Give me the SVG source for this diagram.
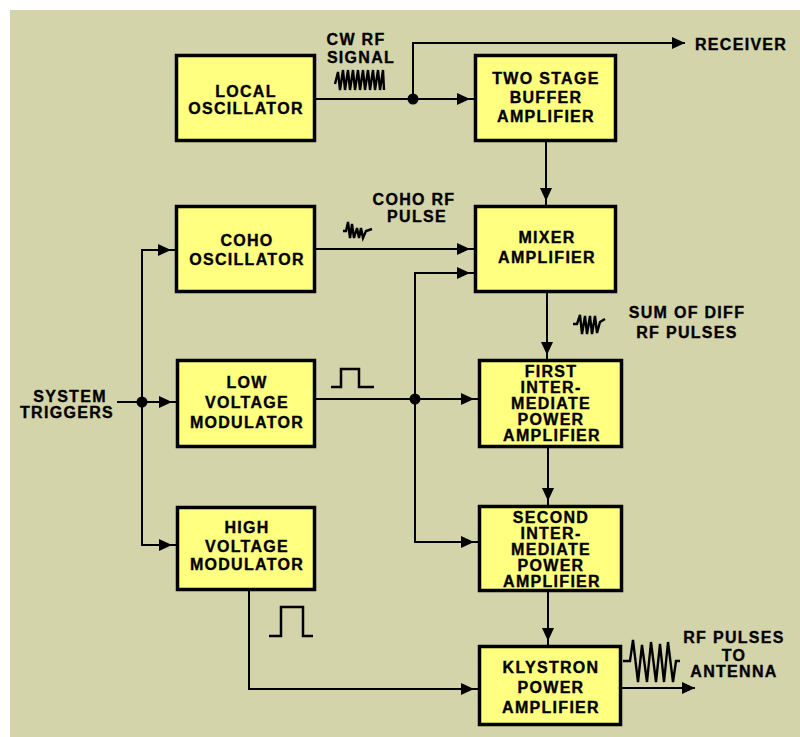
<svg xmlns="http://www.w3.org/2000/svg" width="800" height="737" viewBox="0 0 800 737">
<defs>
<style>
.box{fill:#FFFF80;stroke:#000;stroke-width:3.5}
.t{font-family:"Liberation Sans",Arial,sans-serif;font-weight:bold;font-size:16px;letter-spacing:1.3px;fill:#000;stroke:#000;stroke-width:0.35;text-anchor:middle}
.w{fill:none;stroke:#000;stroke-width:2}
.sq{fill:none;stroke:#000;stroke-width:2.4;stroke-linejoin:miter}
</style>
<marker id="ah" markerUnits="userSpaceOnUse" markerWidth="20" markerHeight="14" viewBox="0 0 20 14" refX="17" refY="7" orient="auto"><path d="M0,1 L13,7 L0,13 z" fill="#000"/></marker>
<marker id="at" markerUnits="userSpaceOnUse" markerWidth="20" markerHeight="14" viewBox="0 0 20 14" refX="13" refY="7" orient="auto"><path d="M0,1 L13,7 L0,13 z" fill="#000"/></marker>
</defs>
<rect x="0" y="0" width="800" height="737" fill="#fff"/>
<rect x="10" y="10" width="790" height="727" fill="#D4D4AA"/>

<g id="connectors">
<path class="w" d="M316,99 H474" marker-end="url(#ah)"/>
<path class="w" d="M413,99 V43 H685" marker-end="url(#at)"/>
<path class="w" d="M546,142 V205" marker-end="url(#ah)"/>
<path class="w" d="M316,249 H474" marker-end="url(#ah)"/>
<path class="w" d="M316,399 H478" marker-end="url(#ah)"/>
<path class="w" d="M415,399 V273 H474" marker-end="url(#ah)"/>
<path class="w" d="M415,399 V542 H478" marker-end="url(#ah)"/>
<path class="w" d="M547,293 V359" marker-end="url(#ah)"/>
<path class="w" d="M548,448 V505" marker-end="url(#ah)"/>
<path class="w" d="M548,592 V645" marker-end="url(#ah)"/>
<path class="w" d="M117,402 H176" marker-end="url(#ah)"/>
<path class="w" d="M142,402 V250 H175" marker-end="url(#ah)"/>
<path class="w" d="M142,402 V545 H176" marker-end="url(#ah)"/>
<path class="w" d="M249,591 V689 H478" marker-end="url(#ah)"/>
<path class="w" d="M622,688 H695" marker-end="url(#at)"/>
<circle cx="413" cy="99" r="5.5" fill="#000"/>
<circle cx="415" cy="399" r="5.5" fill="#000"/>
<circle cx="142" cy="402" r="5.5" fill="#000"/>
</g>

<g id="local-oscillator">
<rect class="box" x="176.5" y="55.5" width="138" height="85"/>
<text class="t" x="246" y="97">LOCAL</text>
<text class="t" x="246" y="114">OSCILLATOR</text>
</g>
<g id="two-stage-buffer">
<rect class="box" x="475.5" y="55.5" width="140" height="85"/>
<text class="t" x="546" y="84">TWO STAGE</text>
<text class="t" x="546" y="103">BUFFER</text>
<text class="t" x="546" y="122">AMPLIFIER</text>
</g>
<g id="coho-oscillator">
<rect class="box" x="176.5" y="206.5" width="138" height="85"/>
<text class="t" x="247" y="246">COHO</text>
<text class="t" x="247" y="265">OSCILLATOR</text>
</g>
<g id="mixer-amplifier">
<rect class="box" x="475.5" y="206.5" width="140" height="85"/>
<text class="t" x="547" y="243">MIXER</text>
<text class="t" x="547" y="263">AMPLIFIER</text>
</g>
<g id="low-voltage-modulator">
<rect class="box" x="177.5" y="360.5" width="137" height="86"/>
<text class="t" x="247" y="388">LOW</text>
<text class="t" x="247" y="408">VOLTAGE</text>
<text class="t" x="247" y="428">MODULATOR</text>
</g>
<g id="high-voltage-modulator">
<rect class="box" x="177.5" y="507.5" width="137" height="82"/>
<text class="t" x="247" y="533">HIGH</text>
<text class="t" x="247" y="552">VOLTAGE</text>
<text class="t" x="247" y="570">MODULATOR</text>
</g>
<g id="first-ipa">
<rect class="box" x="479.5" y="360.5" width="142" height="86"/>
<text class="t" x="551" y="377">FIRST</text>
<text class="t" x="551" y="393">INTER-</text>
<text class="t" x="551" y="409">MEDIATE</text>
<text class="t" x="551" y="425">POWER</text>
<text class="t" x="552" y="441">AMPLIFIER</text>
</g>
<g id="second-ipa">
<rect class="box" x="479.5" y="506.5" width="142" height="84"/>
<text class="t" x="551" y="523">SECOND</text>
<text class="t" x="551" y="539">INTER-</text>
<text class="t" x="551" y="555">MEDIATE</text>
<text class="t" x="551" y="571">POWER</text>
<text class="t" x="552" y="587">AMPLIFIER</text>
</g>
<g id="klystron">
<rect class="box" x="479.5" y="646.5" width="141" height="78"/>
<text class="t" x="551" y="673">KLYSTRON</text>
<text class="t" x="551" y="693">POWER</text>
<text class="t" x="551" y="713">AMPLIFIER</text>
</g>

<g id="labels">
<text class="t" x="356" y="45">CW RF</text>
<text class="t" x="361" y="63">SIGNAL</text>
<text class="t" x="695" y="50" style="text-anchor:start">RECEIVER</text>
<text class="t" x="414" y="205">COHO RF</text>
<text class="t" x="417" y="222">PULSE</text>
<text class="t" x="687" y="318">SUM OF DIFF</text>
<text class="t" x="687" y="338">RF PULSES</text>
<text class="t" x="70" y="402">SYSTEM</text>
<text class="t" x="67" y="418">TRIGGERS</text>
<text class="t" x="734" y="643">RF PULSES</text>
<text class="t" x="734" y="661">TO</text>
<text class="t" x="734" y="677">ANTENNA</text>
</g>

<g id="waveforms">
<polyline class="w" points="331,387 341,387 341,369 359,369 359,387 374,387" style="stroke-width:2.5"/>
<polyline class="w" points="269,636 281,636 281,607 303,607 303,636 313,636" style="stroke-width:2.5"/>
<polyline class="sq" points="335,84 338,72 340,90 343,70 345,90 348,70 350,90 353,70 355,90 358,70 360,90 363,70 365,90 368,70 370,90 373,70 375,90 378,70 380,90 383,70 384,90"/>
<polyline class="sq" points="343,231 346,231 348,222 350,238 352,224 354,238 357,228 359,238 361,228 363,238 366,231 372,229"/>
<polyline class="sq" points="573,324 577,324 580,315 582,334 585,316 587,334 590,316 592,334 595,316 597,333 600,322 605,319"/>
<polyline class="sq" points="623,661 630,661 633,640 638,682 642,645 647,682 651,642 656,682 660,644 664,682 668,642 673,682 676,661 680,661"/>
</g>
</svg>
